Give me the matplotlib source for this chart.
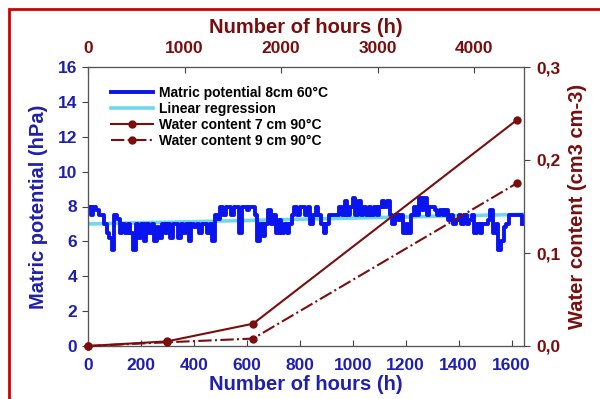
import numpy as np
import matplotlib
matplotlib.use("Agg")
import matplotlib.pyplot as plt
from matplotlib.patches import Rectangle

plt.rcParams['font.family'] = ['Liberation Sans', 'DejaVu Sans']
plt.rcParams['font.weight'] = 'bold'

# Matric potential series (hours, hPa), sampled every 10 h
mp_hours = list(range(0, 1650, 10))
mp_values = [
    8, 7.5, 8, 7.8, 7.5, 7.5, 7, 6.5, 6.2, 5.5,
    7.5, 7.3, 6.5, 7, 6.5, 7, 6.5, 5.5, 7, 6.2,
    7, 6, 7, 6.5, 7, 6, 6.8, 6.2, 7, 6.5,
    7, 6.2, 7, 7, 6.2, 7, 6.5, 7, 6, 7,
    6.8, 7, 6.5, 7, 7, 6.5, 7, 6, 7.5, 7.3,
    8, 7.5, 8, 8, 7.5, 8, 8, 6.5, 8, 8,
    7.8, 8, 8, 7.5, 6, 7, 6.3, 7, 7.8, 7,
    7.5, 6.5, 7.2, 6.5, 7, 6.5, 7, 7.5, 8, 7.5,
    8, 8, 7.5, 8, 7, 7.5, 8, 7.5, 7, 6.5,
    7, 7.5, 7.5, 7.5, 7.5, 8, 7.5, 8.3, 7.5, 8,
    8.5, 7.5, 8.3, 7.5, 8, 7.5, 8, 7.5, 8, 7.5,
    8, 8.3, 8, 8.3, 7.5, 7, 7.5, 7.2, 7.5, 6.5,
    7, 6.5, 7.5, 8, 7.5, 8.5, 7.8, 8.5, 7.5, 8,
    8, 7.8, 7.5, 7.8, 7.5, 7.8, 7.2, 7.5, 7, 7.2,
    7.5, 7, 7.5, 7, 7.2, 7.5, 6.5, 7, 6.5, 7,
    7, 7.2, 7.8, 6.5, 7, 5.5, 6, 6.8, 7, 7.5,
    7.5, 7.5, 7.5, 7.5, 7,
]

# Linear regression end points
reg_hours = [0, 1645]
reg_values = [7.0, 7.55]

# Water content (top axis hours, cm3 cm-3)
wc_hours = [0, 820, 1710, 4440]
wc7_values = [0.0, 0.005, 0.024, 0.243]
wc9_values = [0.0, 0.004, 0.008, 0.175]

bottom_ticks = [0, 200, 400, 600, 800, 1000, 1200, 1400, 1600]
left_ticks = [0, 2, 4, 6, 8, 10, 12, 14, 16]
top_ticks = [0, 1000, 2000, 3000, 4000]
right_ticks = [0.0, 0.1, 0.2, 0.3]
right_labels = ['0,0', '0,1', '0,2', '0,3']

BLUE = '#1f1fb0'
LINEBLUE = '#0a14ee'
CYAN = '#6fd8ee'
DRED = '#7a0e0e'

fig = plt.figure(figsize=(6.0, 3.99), dpi=100)
ax = fig.add_axes([88/600, 1-346/399, (524-88)/600, (346-67)/399])

l1, = ax.plot(mp_hours, mp_values, color=LINEBLUE, lw=2.8, drawstyle='steps-post',
              label='Matric potential 8cm 60°C', zorder=3)
l2, = ax.plot(reg_hours, reg_values, color=CYAN, lw=2.6,
              label='Linear regression', zorder=2)
ax.set_xlim(0, 1647)
ax.set_ylim(0, 16)
ax.set_xticks(bottom_ticks)
ax.set_yticks(left_ticks)
ax.tick_params(axis='x', direction='in', colors='#444444', labelcolor=BLUE, labelsize=12.5,
               length=4, pad=9)
ax.tick_params(axis='y', direction='out', colors='#444444', labelcolor=BLUE, labelsize=12.5,
               length=4, pad=4)
for lab in ax.get_xticklabels() + ax.get_yticklabels():
    lab.set_fontweight('bold')
ax.set_xlabel('Number of hours (h)', color=BLUE, fontsize=14.5, fontweight='bold', labelpad=1)
ax.set_ylabel('Matric potential (hPa)', color=BLUE, fontsize=14.5, fontweight='bold', labelpad=7)

ax2 = ax.twinx()
ax3 = ax2.twiny()
l3, = ax3.plot(wc_hours, wc7_values, color=DRED, lw=1.5, marker='o', ms=5,
               label='Water content 7 cm 90°C', zorder=4, clip_on=False)
l4, = ax3.plot(wc_hours, wc9_values, color=DRED, lw=1.5, ls='-.', marker='o', ms=5,
               label='Water content 9 cm 90°C', zorder=4, clip_on=False)
ax2.set_ylim(0, 0.3)
ax3.set_ylim(0, 0.3)
ax3.set_xlim(0, 4514)
ax2.set_yticks(right_ticks)
ax2.set_yticklabels(right_labels)
ax3.set_xticks(top_ticks)
ax2.tick_params(axis='y', direction='out', colors='#444444', labelcolor=DRED, labelsize=12.5,
                length=4, pad=5)
ax3.tick_params(axis='x', direction='in', colors='#444444', labelcolor=DRED, labelsize=12.5,
                length=4, pad=8)
for lab in ax2.get_yticklabels() + ax3.get_xticklabels():
    lab.set_fontweight('bold')
ax2.set_ylabel('Water content (cm3 cm-3)', color=DRED, fontsize=14.5, fontweight='bold', labelpad=5)
ax3.set_xlabel('Number of hours (h)', color=DRED, fontsize=14.5, fontweight='bold', labelpad=6)

for a in (ax, ax2, ax3):
    for s in a.spines.values():
        s.set_color('#555555')
        s.set_linewidth(0.8)

leg = ax3.legend(handles=[l1, l2, l3, l4], loc='upper left', bbox_to_anchor=(0.025, 0.977),
                 frameon=False, handlelength=3.0, labelspacing=0.15,
                 handletextpad=0.4, prop={'weight': 'bold', 'size': 10})

fig.patches.append(Rectangle((9/600, -0.2), 2.0, 1 - 9/399 + 0.2, transform=fig.transFigure,
                             fill=False, edgecolor='#d00000', lw=2.0))

fig.savefig('out.png', dpi=100)
